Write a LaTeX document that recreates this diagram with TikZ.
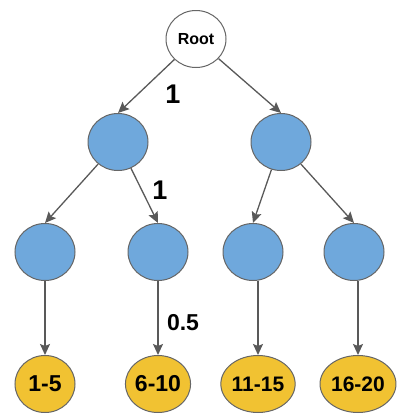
\documentclass[tikz,border=0pt]{standalone}
\usepackage{fontspec}
\setmainfont{Liberation Sans}
\usetikzlibrary{arrows.meta}
\usetikzlibrary{shapes.geometric}
\definecolor{nodeblue}{HTML}{6FA8DC}
\definecolor{nodeyellow}{HTML}{F1C232}
\definecolor{edgegray}{HTML}{595959}
\definecolor{bordergray}{HTML}{666666}
\tikzset{
  base/.style={ellipse, draw=bordergray, line width=1pt, minimum width=60pt, minimum height=57pt, inner sep=0pt, font=\bfseries},
  rootnode/.style={base, fill=white, font=\bfseries\fontsize{16}{18}\selectfont},
  inner/.style={base, fill=nodeblue},
  leaf/.style={base, fill=nodeyellow, font=\bfseries\fontsize{23}{25}\selectfont},
  edge/.style={draw=edgegray, line width=1.3pt, -{Stealth[length=11pt,width=10pt,inset=2pt]}},
  weight/.style={font=\bfseries\fontsize{27}{29}\selectfont, inner sep=0pt}
}
\begin{document}
\begin{tikzpicture}[x=1pt,y=-1pt]
\useasboundingbox (0,0) rectangle (405,418);
\node[rootnode] (root) at (196,39) {Root};
\node[inner] (l) at (118,142) {};
\node[inner] (r) at (281,142) {};
\node[inner] (la) at (45,252) {};
\node[inner] (lb) at (158,252) {};
\node[inner] (ra) at (253,252) {};
\node[inner] (rb) at (354,252) {};
\node[leaf] (ya) at (45,384) {1-5};
\node[leaf] (yb) at (158,384) {6-10};
\node[leaf, font=\bfseries\fontsize{21}{23}\selectfont] (yc) at (258,384) {11-15};
\node[leaf, font=\bfseries\fontsize{21}{23}\selectfont] (yd) at (358,384) {16-20};
\draw[edge] (root) -- (l.north);
\draw[edge] (root) -- (r.north);
\draw[edge] (l) -- (la.north);
\draw[edge] (l) -- (lb.north);
\draw[edge] (r) -- (ra.north);
\draw[edge] (r) -- (rb.north);
\draw[edge] (la) -- (ya);
\draw[edge] (lb) -- (yb);
\draw[edge] (ra.south -| yc.north) -- (yc.north);
\draw[edge] (rb.south -| yd.north) -- (yd.north);
\node[weight] (w1) at (173,94) {1};
\node[weight] (w2) at (160,190) {1};
\node[weight, font=\bfseries\fontsize{23}{25}\selectfont] (w3) at (183,323) {0.5};
\end{tikzpicture}
\end{document}
